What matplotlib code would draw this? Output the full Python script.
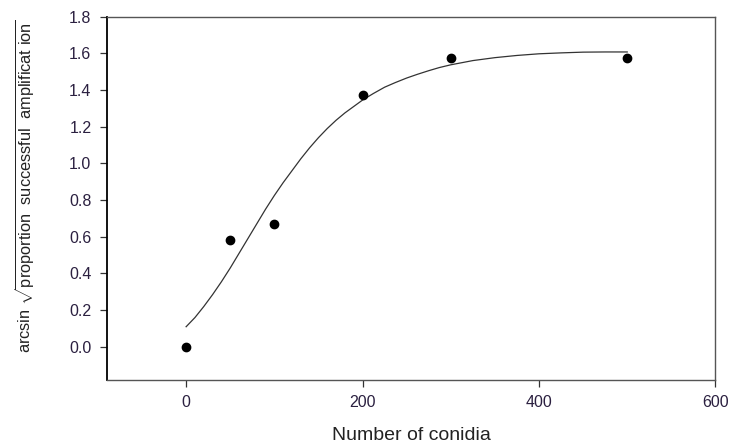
import matplotlib
matplotlib.use("Agg")
import matplotlib.pyplot as plt

plt.rcParams['font.family'] = ['Liberation Sans', 'DejaVu Sans']
plt.rcParams['mathtext.fontset'] = 'custom'
plt.rcParams['mathtext.rm'] = 'Liberation Sans'
plt.rcParams['mathtext.it'] = 'Liberation Sans'

# observed points
conidia = [0, 50, 100, 200, 300, 500]
arcsin_prop = [0.0, 0.58, 0.67, 1.37, 1.575, 1.573]

# fitted sigmoid curve
fit_x = [0, 10, 20, 30, 40, 50, 60, 70, 80, 90, 100, 110, 120, 130, 140, 150,
         160, 170, 180, 190, 200, 212, 225, 237, 250, 262, 275, 287, 300, 325,
         350, 375, 400, 425, 450, 475, 500]
fit_y = [0.11, 0.16, 0.22, 0.285, 0.355, 0.43, 0.51, 0.59, 0.67, 0.75, 0.825,
         0.895, 0.96, 1.025, 1.085, 1.14, 1.19, 1.235, 1.275, 1.31, 1.345,
         1.38, 1.415, 1.44, 1.465, 1.485, 1.505, 1.522, 1.537, 1.56, 1.576,
         1.588, 1.597, 1.602, 1.606, 1.607, 1.607]

xticks = [0, 200, 400, 600]
yticks = [0.0, 0.2, 0.4, 0.6, 0.8, 1.0, 1.2, 1.4, 1.6, 1.8]

fig = plt.figure(figsize=(7.29, 4.47), dpi=100)
ax = fig.add_axes([0.1464, 0.150, 0.835, 0.813])

ax.plot(fit_x, fit_y, color='#333333', lw=0.9, zorder=2)
ax.plot(conidia, arcsin_prop, 'o', color='black', ms=6, zorder=3)

ax.set_xlim(-90, 600)
ax.set_ylim(-0.18, 1.8)
ax.set_xticks(xticks)
ax.set_yticks(yticks)
ax.set_yticklabels(['%.1f' % v for v in yticks])

tick_col = '#2b2040'
ax.tick_params(axis='both', direction='out', length=5, width=0.9,
               labelsize=11.5, labelcolor=tick_col, color='#333333')
ax.tick_params(axis='y', pad=6)
ax.tick_params(axis='x', pad=6)

for side in ['top', 'right', 'bottom']:
    ax.spines[side].set_color('#555555')
    ax.spines[side].set_linewidth(1.0)
ax.spines['left'].set_color('black')
ax.spines['left'].set_linewidth(1.3)

ax.set_xlabel('Number of conidia', fontsize=14, color='#222222', labelpad=12)
ax.set_ylabel(r'arcsin $\sqrt{\mathrm{proportion\ \ successful\ \ amplificat\ ion}}$',
              fontsize=11.8, color='#222222')
ax.yaxis.set_label_coords(-0.115, 0.534)

plt.savefig('out.png', dpi=100)
